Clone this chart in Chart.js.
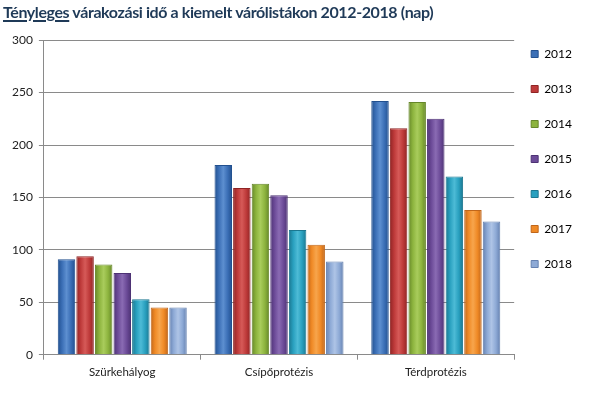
<!DOCTYPE html>
<html>
<head>
<meta charset="utf-8">
<script src="https://cdn.jsdelivr.net/npm/chart.js@4.4.1/dist/chart.umd.min.js"></script>
<style>
  html, body { margin: 0; padding: 0; background: #ffffff; }
  #wrap { position: relative; width: 600px; height: 395px; }
  #title { position: absolute; left: 3px; top: 2px; font-family: Lato, "Open Sans", sans-serif; font-weight: bold; font-size: 16px; color: #1f3a58; white-space: nowrap; letter-spacing: -0.4px; }
  #title u { text-decoration-thickness: 1.5px; text-underline-offset: 2px; }
  canvas { position: absolute; left: 0; top: 0; }
</style>
</head>
<body>
<div id="wrap">
  <canvas id="c" width="600" height="395"></canvas>
  <div id="title"><u>Tényleges</u> várakozási idő a kiemelt várólistákon 2012-2018 (nap)</div>
</div>
<script>
const categories = ["Szürkehályog", "Csípőprotézis", "Térdprotézis"];
const years = ["2012", "2013", "2014", "2015", "2016", "2017", "2018"];
const v2012 = [91, 181, 242];
const v2013 = [94, 159, 216];
const v2014 = [86, 163, 241];
const v2015 = [78, 152, 225];
const v2016 = [53, 119, 170];
const v2017 = [45, 105, 138];
const v2018 = [45, 89, 127];
const yTicks = [0, 50, 100, 150, 200, 250, 300];

const seriesValues = [v2012, v2013, v2014, v2015, v2016, v2017, v2018];
const baseColors = ["#3b6fb6", "#be3a3a", "#8db43e", "#6c4b98", "#29a0bf", "#f08a26", "#8eaad6"];
const darkColors = ["#22508f", "#8f2424", "#66872a", "#4d3274", "#1b7790", "#c0661a", "#6581b0"];
const lightColors = ["#5d8fd0", "#d65a58", "#a9cc5c", "#8a6bb3", "#4dbbd6", "#f7a54c", "#aec4e6"];

const CAT_PCT = 0.83, BAR_PCT = 0.94;

function barGradient(ctx) {
  const chart = ctx.chart;
  const ds = ctx.datasetIndex;
  const xs = chart.scales.x;
  if (!xs || xs.width === undefined || ctx.dataIndex === undefined) return baseColors[ds];
  const catW = xs.width / categories.length;
  const start = xs.getPixelForValue(ctx.dataIndex) - catW / 2 + catW * (1 - CAT_PCT) / 2;
  const slot = catW * CAT_PCT / years.length;
  const cx = start + slot * (ds + 0.5);
  const w = slot * BAR_PCT;
  const g = chart.ctx.createLinearGradient(cx - w / 2, 0, cx + w / 2, 0);
  g.addColorStop(0, darkColors[ds]);
  g.addColorStop(0.25, baseColors[ds]);
  g.addColorStop(0.5, lightColors[ds]);
  g.addColorStop(0.75, baseColors[ds]);
  g.addColorStop(1, darkColors[ds]);
  return g;
}

const datasets = years.map((y, i) => ({
  label: y,
  data: seriesValues[i],
  backgroundColor: barGradient,
  borderColor: darkColors[i],
  borderWidth: 1,
  categoryPercentage: CAT_PCT,
  barPercentage: BAR_PCT
}));

const legendShift = {
  id: 'legendShift',
  afterLayout(chart) {
    if (chart.legend) { chart.legend.left -= 6; chart.legend.right -= 6; }
  }
};

Chart.defaults.font.family = "Lato, 'Open Sans', sans-serif";
Chart.defaults.color = "#222222";

new Chart(document.getElementById('c'), {
  type: 'bar',
  data: { labels: categories, datasets: datasets },
  plugins: [legendShift],
  options: {
    responsive: false,
    animation: false,
    devicePixelRatio: 1,
    layout: { padding: { top: 25, left: 6, right: 12, bottom: 9.5 } },
    plugins: {
      title: { display: true, text: ' ', font: { size: 6 }, padding: { top: 0, bottom: 8 } },
      tooltip: { enabled: false },
      legend: {
        position: 'right',
        align: 'start',
        labels: {
          boxWidth: 7,
          boxHeight: 7,
          padding: 23,
          color: '#222222',
          font: { size: 12 },
          generateLabels: (chart) => chart.data.datasets.map((d, i) => ({
            text: d.label,
            fillStyle: baseColors[i],
            strokeStyle: darkColors[i],
            lineWidth: 1,
            datasetIndex: i,
            hidden: false
          }))
        }
      }
    },
    scales: {
      x: {
        grid: { display: true, drawOnChartArea: false, offset: true, color: '#8a8a8a', tickLength: 5 },
        border: { display: true, color: '#8a8a8a' },
        ticks: { font: { size: 11.5 }, color: '#222222', padding: 6 }
      },
      y: {
        min: 0,
        max: 300,
        afterBuildTicks: (axis) => { axis.ticks = yTicks.map(v => ({ value: v })); },
        grid: { color: '#8a8a8a', tickLength: 5 },
        border: { display: true, color: '#8a8a8a' },
        ticks: { font: { size: 12 }, color: '#222222', padding: 6 }
      }
    }
  }
});
</script>
</body>
</html>
